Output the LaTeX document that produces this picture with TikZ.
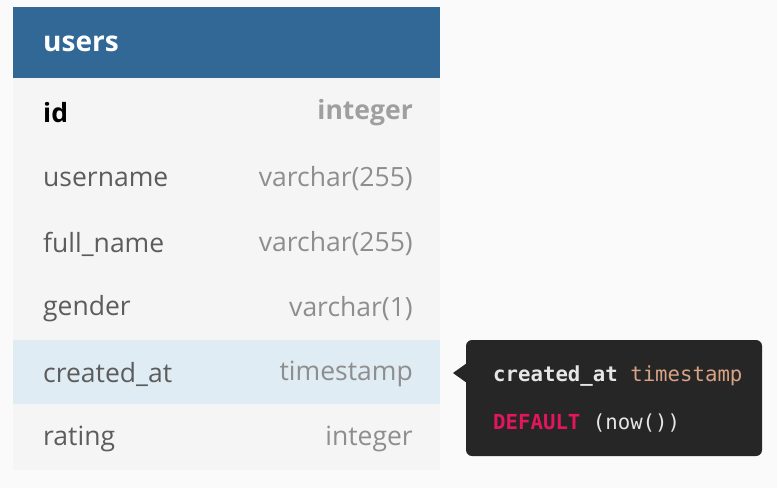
\documentclass[tikz,border=0pt]{standalone}
\usepackage{fontspec}
\setmainfont{Open Sans}
\newfontfamily\codefont{DejaVu Sans Mono}
\definecolor{pagebg}{HTML}{FAFAFA}
\definecolor{rowbg}{HTML}{F5F5F5}
\definecolor{hlbg}{HTML}{DFECF3}
\definecolor{headbg}{HTML}{316896}
\definecolor{namecol}{HTML}{5C5C5C}
\definecolor{typecol}{HTML}{8E8E8E}
\definecolor{tipbg}{HTML}{262626}
\definecolor{tiptext}{HTML}{E6E6E6}
\definecolor{tiptype}{HTML}{D8A385}
\definecolor{tipkw}{HTML}{E3155C}
\tikzset{
  x=1pt, y=-1pt,
  fname/.style={anchor=west, inner sep=0pt, text=namecol, font=\fontsize{26.5}{30}\selectfont},
  ftype/.style={anchor=east, inner sep=0pt, text=typecol, font=\fontsize{26.5}{30}\selectfont},
  tiptxt/.style={anchor=west, inner sep=0pt, font=\codefont\fontsize{20.7}{24}\selectfont}
}
\begin{document}
\begin{tikzpicture}
\useasboundingbox[fill=pagebg] (0,0) rectangle (777,488);
% table body
\fill[rowbg] (13,78) rectangle (440,470);
\fill[hlbg] (13,340) rectangle (440,404);
\fill[headbg] (13,7) rectangle (440,78);
\node[anchor=west, inner sep=0pt, text=white, font=\bfseries\fontsize{28}{32}\selectfont] (title) at (43,44) {users};
\node[fname, text=black, font=\bfseries\fontsize{26.5}{30}\selectfont] (n1) at (43,113) {id};
\node[ftype, font=\bfseries\fontsize{26.5}{30}\selectfont, text=typecol!85] (t1) at (413,113) {integer};
\node[fname] (n2) at (43,179) {username};
\node[ftype] (t2) at (413,179) {varchar(255)};
\node[fname] (n3) at (43,244) {full\_name};
\node[ftype] (t3) at (413,244) {varchar(255)};
\node[fname] (n4) at (43,309) {gender};
\node[ftype] (t4) at (413,309) {varchar(1)};
\node[fname] (n5) at (43,374) {created\_at};
\node[ftype] (t5) at (413,374) {timestamp};
\node[fname] (n6) at (43,439) {rating};
\node[ftype] (t6) at (413,439) {integer};
% tooltip
\fill[tipbg, rounded corners=6pt] (466,340) rectangle (762,456);
\fill[tipbg] (467,363) -- (453,373) -- (467,383) -- cycle;
\node[tiptxt] (c1) at (493,376) {\textcolor{tiptext}{\bfseries created\_at} \textcolor{tiptype}{timestamp}};
\node[tiptxt] (c2) at (493,423) {\textcolor{tipkw}{\bfseries DEFAULT} \textcolor{tiptext}{(now())}};
\end{tikzpicture}
\end{document}
